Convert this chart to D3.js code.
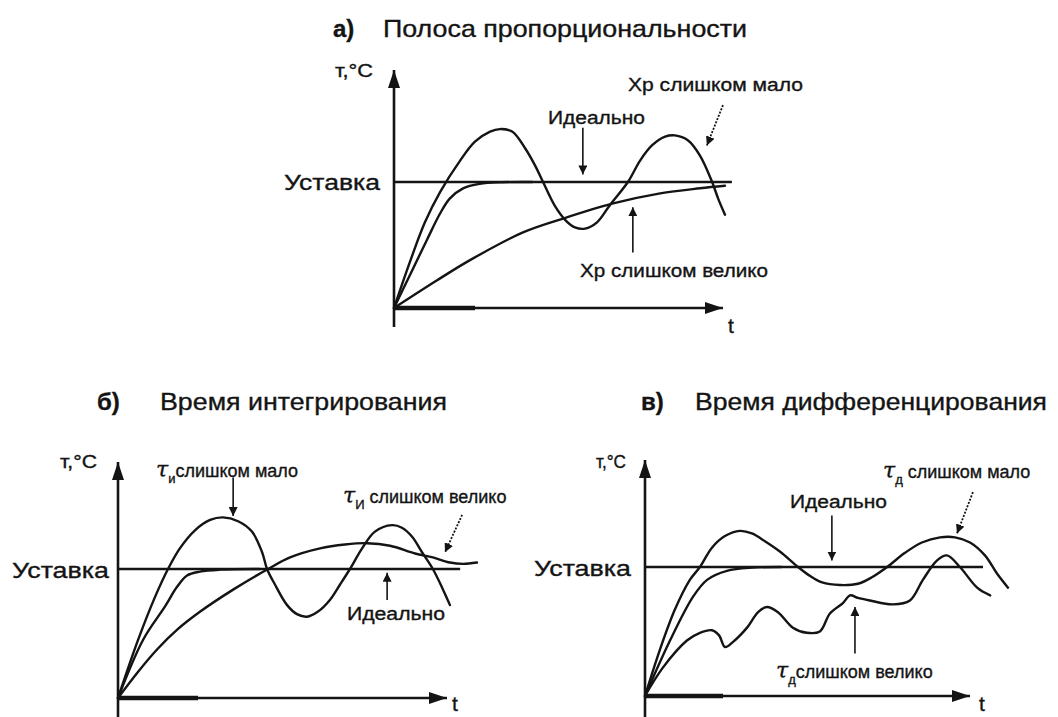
<!DOCTYPE html>
<html><head><meta charset="utf-8">
<script src="https://cdn.jsdelivr.net/npm/d3@7"></script>
<style>html,body{margin:0;padding:0;background:#fff}svg{display:block}</style>
</head><body>
<svg id="c" width="1058" height="717"></svg>
<script>
// ---------- DATA ----------
const panelLetters = ["а)", "б)", "в)"];
const panelTitles = ["Полоса пропорциональности", "Время интегрирования", "Время дифференцирования"];
const yAxisLabel = "т,°С";
const xAxisLabel = "t";
const setpointLabel = "Уставка";
const setpointValue = 1;

// Panel а: Полоса пропорциональности (t: 0..100, T relative to setpoint)
const aXpSmall = [[0,0],[4.9,0.37],[9.4,0.68],[14.0,0.92],[20.1,1.17],[24.6,1.32],[29.2,1.40],[32.2,1.42],[35.9,1.40],[39.8,1.27],[42.9,1.13],[45.3,1.00],[48.9,0.81],[52.0,0.70],[55.0,0.64],[58.1,0.63],[61.7,0.68],[65.7,0.82],[71.1,1.00],[74.8,1.17],[78.4,1.29],[82.4,1.36],[85.4,1.37],[89.4,1.33],[93.0,1.21],[96.7,1.00],[98.5,0.87],[100.6,0.74]];
const aIdeal = [[0,0],[5,0.27],[10,0.54],[14,0.75],[17,0.87],[21,0.95],[26,0.985],[33,0.998],[42,1]];
const aXpLarge = [[0,0],[13.1,0.22],[23.1,0.38],[39.2,0.60],[51.4,0.71],[66.6,0.83],[80.9,0.91],[93.0,0.95],[100.6,0.97]];

// Panel б: Время интегрирования
const bTiSmall = [[0,0],[6.1,0.45],[11.2,0.78],[15.2,1.00],[18.8,1.16],[23.4,1.30],[28.0,1.38],[31.9,1.40],[36.5,1.37],[40.7,1.29],[43.8,1.13],[45.3,1.00],[47.7,0.88],[51.4,0.72],[54.4,0.65],[57.4,0.63],[60.8,0.67],[64.4,0.76],[67.5,0.88],[70.5,1.00],[74.2,1.16],[78.1,1.29],[83.3,1.34],[86.3,1.32],[89.4,1.25],[92.4,1.13],[95.7,1.00],[98.8,0.84],[100.9,0.72]];
const bIdeal = [[0,0],[7.6,0.45],[14.3,0.71],[17.9,0.86],[21.0,0.95],[24.9,0.98],[31.0,0.995],[43,1]];
const bTiLarge = [[0,0],[6,0.2],[12,0.38],[18,0.53],[25,0.67],[35,0.84],[45.6,1.00],[52.3,1.09],[61.4,1.16],[69.0,1.19],[75.7,1.20],[82.7,1.18],[90.3,1.12],[95.7,1.09],[100.9,1.05],[104.9,1.04],[109.1,1.05]];

// Panel в: Время дифференцирования
const cTdSmall = [[0,0],[4.6,0.36],[9.2,0.67],[13.8,0.90],[16.9,1.00],[20.6,1.15],[24.6,1.24],[29.2,1.28],[32.9,1.26],[36.9,1.20],[41.5,1.12],[47.1,1.00],[50.8,0.93],[54.5,0.88],[60.0,0.86],[65.5,0.87],[69.8,0.92],[74.5,1.00],[80.0,1.11],[85.2,1.19],[90.8,1.23],[95.4,1.23],[100.0,1.19],[104.6,1.09],[108.3,0.95],[111.7,0.84]];
const cIdeal = [[0,0],[7.7,0.43],[14.8,0.77],[19.1,0.90],[25.2,0.97],[33.2,0.995],[42,1]];
const cTdLarge = [[0,0],[5.5,0.22],[12.9,0.43],[16.9,0.49],[20.6,0.51],[22.8,0.47],[24.6,0.38],[27.1,0.42],[31.4,0.53],[34.8,0.65],[37.5,0.69],[40.9,0.65],[45.5,0.53],[49.8,0.49],[53.8,0.50],[56.9,0.64],[60.9,0.72],[63.1,0.78],[65.5,0.76],[69.2,0.74],[76.3,0.71],[81.5,0.74],[85.5,0.90],[89.8,1.05],[92.9,1.09],[96.9,1.00],[102.2,0.84],[106.2,0.78]];

// Annotation texts: [tau-symbol or "", subscript, main text]
const aNotes = [["", "", "Хр слишком мало"], ["", "", "Идеально"], ["", "", "Хр слишком велико"]];
const bNotes = [["τ", "и", "слишком мало"], ["τ", "И", " слишком велико"], ["", "", "Идеально"]];
const cNotes = [["", "", "Идеально"], ["τ", "д", " слишком мало"], ["τ", "д", "слишком велико"]];

// ---------- LAYOUT ----------
const panels = [
  { ox:394, oy:308, xEnd:723, spY:182, yTop:70, yBot:327, tMax:100, setEnd:102.7, thickEnd:475,
    letter:{x:333, y:37}, title:{x:383, y:37, w:364},
    yl:{x:335, y:77, w:38}, sp:{x:284, y:190, w:96}, tl:{x:728, y:333},
    curves:[aXpSmall, aIdeal, aXpLarge],
    notes:aNotes,
    noteText:[{x:628,y:91,w:175},{x:548,y:124,w:97},{x:580,y:277,w:188}],
    arrows:[{t:100,y0:1.61,t1:95.1,y1:1.29,dash:true},{t:57.4,y0:1.43,t1:57.4,y1:1.06},{t:72.6,y0:0.44,t1:72.6,y1:0.80}] },
  { ox:118, oy:698, xEnd:447, spY:569, yTop:462, yBot:717, tMax:100, setEnd:104, thickEnd:198,
    letter:{x:97, y:410}, title:{x:160, y:410, w:287},
    yl:{x:60, y:468, w:37}, sp:{x:12, y:578, w:97}, tl:{x:452, y:711},
    curves:[bTiSmall, bIdeal, bTiLarge],
    notes:bNotes,
    noteText:[{x:156,y:477,w:166},{x:343,y:503,w:197},{x:347,y:620,w:98}],
    arrows:[{t:35.0,y0:1.71,t1:35.0,y1:1.41},{t:104.6,y0:1.42,t1:99.4,y1:1.13,dash:true},{t:81.8,y0:0.76,t1:81.8,y1:0.97}] },
  { ox:645, oy:696, xEnd:970, spY:567, yTop:460, yBot:717, tMax:100, setEnd:104, thickEnd:723,
    letter:{x:641, y:410}, title:{x:695, y:410, w:352},
    yl:{x:596, y:468, w:30}, sp:{x:534, y:576, w:97}, tl:{x:979, y:711},
    curves:[cTdSmall, cIdeal, cTdLarge],
    notes:cNotes,
    noteText:[{x:790,y:508,w:97},{x:883,y:478,w:162},{x:776,y:678,w:189}],
    arrows:[{t:57.5,y0:1.40,t1:57.5,y1:1.05},{t:100.9,y0:1.58,t1:96,y1:1.26,dash:true},{t:64.6,y0:0.33,t1:64.6,y1:0.69}] }
];

const INK = "#141414";
const FONT = "'Liberation Sans', Arial, sans-serif";
const svg = d3.select("#c");
svg.append("rect").attr("width",1058).attr("height",717).attr("fill","#fff");

const defs = svg.append("defs");
defs.append("marker").attr("id","ah").attr("viewBox","0 0 10 10").attr("refX",10).attr("refY",5)
  .attr("markerWidth",9).attr("markerHeight",9).attr("markerUnits","userSpaceOnUse").attr("orient","auto")
  .append("path").attr("d","M0,0 L10,5 L0,10 Z").attr("fill",INK);
defs.append("marker").attr("id","ahBig").attr("viewBox","0 0 18 12").attr("refX",18).attr("refY",6)
  .attr("markerWidth",18).attr("markerHeight",12).attr("markerUnits","userSpaceOnUse").attr("orient","auto")
  .append("path").attr("d","M0,0 L18,6 L0,12 Z").attr("fill",INK);

function styleText(sel, size) {
  return sel.attr("font-family", FONT).attr("font-size", size).attr("fill", INK)
    .attr("stroke", INK).attr("stroke-width", 0.35);
}

panels.forEach((p, i) => {
  const x = d3.scaleLinear().domain([0, p.tMax]).range([p.ox, p.xEnd]);
  const y = d3.scaleLinear().domain([0, setpointValue]).range([p.oy, p.spY]);
  const g = svg.append("g");

  // title
  styleText(g.append("text"), 24).attr("x", p.letter.x).attr("y", p.letter.y)
    .attr("font-weight", "bold").text(panelLetters[i]);
  styleText(g.append("text"), 24).attr("x", p.title.x).attr("y", p.title.y)
    .attr("textLength", p.title.w).attr("lengthAdjust", "spacingAndGlyphs").text(panelTitles[i]);

  // axes via D3 axis generators (no ticks)
  const xAxis = d3.axisBottom(x).ticks(0).tickSize(0).tickSizeOuter(0);
  const yAxis = d3.axisLeft(d3.scaleLinear().domain([0,1]).range([p.yBot, p.yTop + 10])).ticks(0).tickSize(0).tickSizeOuter(0);
  const gx = g.append("g").attr("transform", `translate(0,${p.oy})`).call(xAxis);
  gx.select(".domain").attr("stroke", INK).attr("stroke-width", 2.6).attr("marker-end", "url(#ahBig)")
    .attr("d", `M${p.ox},0H${p.xEnd}`);
  const gy = g.append("g").attr("transform", `translate(${p.ox},0)`).call(yAxis);
  gy.select(".domain").attr("stroke", INK).attr("stroke-width", 2.6)
    .attr("d", `M0,${p.yBot}V${p.yTop}`).attr("marker-end", "url(#ahBig)");
  // heavier start of time axis (as in the scan)
  g.append("line").attr("x1", p.ox).attr("x2", p.thickEnd).attr("y1", p.oy).attr("y2", p.oy)
    .attr("stroke", INK).attr("stroke-width", 4.5);

  styleText(g.append("text"), 18).attr("x", p.yl.x).attr("y", p.yl.y)
    .attr("textLength", p.yl.w).attr("lengthAdjust", "spacingAndGlyphs").text(yAxisLabel);
  styleText(g.append("text"), 21).attr("x", p.tl.x).attr("y", p.tl.y).text(xAxisLabel);

  // setpoint
  g.append("line").attr("x1", x(0)).attr("x2", x(p.setEnd)).attr("y1", y(setpointValue)).attr("y2", y(setpointValue))
    .attr("stroke", INK).attr("stroke-width", 2.6);
  styleText(g.append("text"), 22).attr("x", p.sp.x).attr("y", p.sp.y)
    .attr("textLength", p.sp.w).attr("lengthAdjust", "spacingAndGlyphs").text(setpointLabel);

  // curves
  const line = d3.line().x(d => x(d[0])).y(d => y(d[1])).curve(d3.curveCatmullRom.alpha(0.5));
  p.curves.forEach(c => {
    g.append("path").attr("d", line(c)).attr("fill", "none").attr("stroke", INK)
      .attr("stroke-width", 2.4).attr("stroke-linejoin", "round").attr("stroke-linecap", "round");
  });

  // annotation arrows
  p.arrows.forEach(a => {
    g.append("line").attr("x1", x(a.t)).attr("y1", y(a.y0)).attr("x2", x(a.t1)).attr("y2", y(a.y1))
      .attr("stroke", INK).attr("stroke-width", a.dash ? 1.8 : 1.6)
      .attr("stroke-dasharray", a.dash ? "2,1.5" : null).attr("marker-end", "url(#ah)");
  });

  // annotation texts
  p.notes.forEach((n, k) => {
    const pos = p.noteText[k];
    const t = styleText(g.append("text"), 18).attr("x", pos.x).attr("y", pos.y);
    if (n[0]) {
      t.append("tspan").attr("font-family", "'DejaVu Serif', 'Liberation Serif', serif").attr("font-style", "italic")
        .attr("font-size", 22).text(n[0]);
      t.append("tspan").attr("font-size", 13).attr("dy", 6).text(n[1]);
      t.append("tspan").attr("dy", -6).text(n[2]);
    } else {
      t.attr("textLength", pos.w).attr("lengthAdjust", "spacingAndGlyphs").text(n[2]);
    }
  });
});
</script>
</body></html>
